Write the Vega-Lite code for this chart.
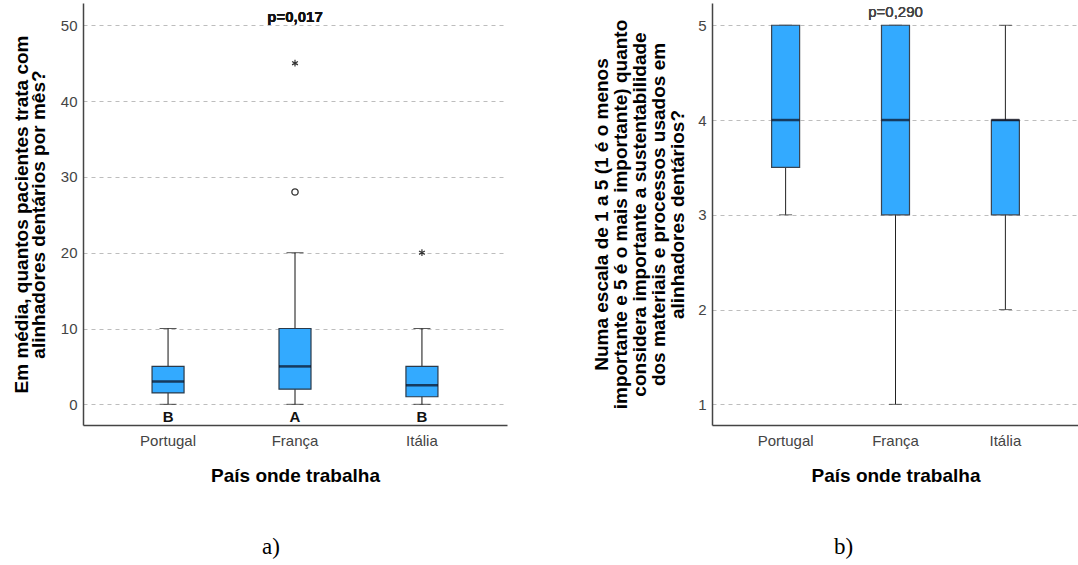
{
  "$schema": "https://vega.github.io/schema/vega-lite/v6.json",
  "padding": {"left": 12, "top": 3, "right": 0, "bottom": 0},
  "background": "white",
  "config": {
    "font": "Liberation Sans",
    "view": {"stroke": null},
    "axis": {
      "labelFont": "Liberation Sans",
      "labelFontSize": 15,
      "labelColor": "#444444",
      "ticks": false,
      "domainColor": "#444444",
      "domainWidth": 1.5,
      "gridColor": "#bdbdbd",
      "gridDash": [4, 4],
      "gridWidth": 1,
      "titleFont": "Liberation Sans",
      "titleFontSize": 19,
      "titleFontWeight": "bold",
      "titleColor": "#000000"
    },
    "title": {"font": "Liberation Serif", "fontSize": 23, "fontWeight": "normal", "color": "#000000"}
  },
  "datasets": {
    "boxA": [
      {"pais": "Portugal", "min": 0, "q1": 1.5, "med": 3, "q3": 5, "max": 10, "letra": "B"},
      {"pais": "França", "min": 0, "q1": 2, "med": 5, "q3": 10, "max": 20, "letra": "A"},
      {"pais": "Itália", "min": 0, "q1": 1, "med": 2.5, "q3": 5, "max": 10, "letra": "B"}
    ],
    "outA": [
      {"pais": "França", "valor": 28, "tipo": "circulo"},
      {"pais": "França", "valor": 45, "tipo": "estrela"},
      {"pais": "Itália", "valor": 20, "tipo": "estrela"}
    ],
    "boxB": [
      {"pais": "Portugal", "min": 3, "q1": 3.5, "med": 4, "q3": 5, "max": 5},
      {"pais": "França", "min": 1, "q1": 3, "med": 4, "q3": 5, "max": 5},
      {"pais": "Itália", "min": 2, "q1": 3, "med": 4, "q3": 4, "max": 5}
    ]
  },
  "spacing": 85,
  "hconcat": [
    {
      "width": 424,
      "height": 422,
      "title": {"text": "a)", "orient": "bottom", "offset": 51, "dx": -24},
      "data": {"name": "boxA"},
      "encoding": {
        "x": {
          "field": "pais", "type": "nominal", "sort": ["Portugal", "França", "Itália"],
          "scale": {"type": "band", "paddingInner": 0, "paddingOuter": 0.17},
          "axis": {"title": "País onde trabalha", "labelAngle": 0, "labelPadding": 8, "titlePadding": 18, "grid": false}
        }
      },
      "layer": [
        {
          "mark": {"type": "rule", "color": "#111111", "strokeWidth": 1},
          "encoding": {
            "y": {
              "field": "min", "type": "quantitative",
              "scale": {"domain": [-2.73, 52.94], "nice": false, "zero": false},
              "axis": {
                "title": ["Em média, quantos pacientes trata com", "alinhadores dentários por mês?"],
                "titleLineHeight": 17,
                "values": [0, 10, 20, 30, 40, 50],
                "format": "d",
                "labelPadding": 6,
                "titlePadding": 12,
                "grid": true
              }
            },
            "y2": {"field": "max"}
          }
        },
        {
          "mark": {"type": "tick", "color": "#111111", "thickness": 1, "size": 17},
          "encoding": {"y": {"field": "min", "type": "quantitative"}}
        },
        {
          "mark": {"type": "tick", "color": "#111111", "thickness": 1, "size": 17},
          "encoding": {"y": {"field": "max", "type": "quantitative"}}
        },
        {
          "mark": {"type": "bar", "size": 32, "fill": "#33aaff", "stroke": "#2b3a4a", "strokeWidth": 1.2},
          "encoding": {"y": {"field": "q1", "type": "quantitative"}, "y2": {"field": "q3"}}
        },
        {
          "mark": {"type": "tick", "color": "#0a0a1a", "thickness": 2.5, "size": 32},
          "encoding": {"y": {"field": "med", "type": "quantitative"}}
        },
        {
          "mark": {"type": "text", "font": "Liberation Sans", "fontSize": 15, "fontWeight": "bold", "color": "#111111", "baseline": "middle"},
          "encoding": {"y": {"datum": -1.7}, "text": {"field": "letra"}}
        },
        {
          "data": {"name": "outA"},
          "transform": [{"filter": "datum.tipo === 'circulo'"}],
          "mark": {"type": "point", "shape": "circle", "filled": false, "size": 40, "stroke": "#333333", "strokeWidth": 1.3, "opacity": 1},
          "encoding": {"y": {"field": "valor", "type": "quantitative"}}
        },
        {
          "data": {"name": "outA"},
          "transform": [{"filter": "datum.tipo === 'estrela'"}],
          "mark": {"type": "point", "shape": "M0,-1L0,1M-0.87,-0.5L0.87,0.5M-0.87,0.5L0.87,-0.5", "filled": false, "size": 45, "stroke": "#333333", "strokeWidth": 1.2, "opacity": 1},
          "encoding": {"y": {"field": "valor", "type": "quantitative"}}
        },
        {
          "mark": {"type": "text", "text": "p=0,017", "font": "Liberation Sans", "fontSize": 15, "fontWeight": "bold", "color": "#111111", "baseline": "middle"},
          "encoding": {"x": {"datum": "França"}, "y": {"datum": 51.05}}
        }
      ]
    },
    {
      "width": 367,
      "height": 422,
      "title": {"text": "b)", "orient": "bottom", "offset": 51, "dx": -52},
      "data": {"name": "boxB"},
      "encoding": {
        "x": {
          "field": "pais", "type": "nominal", "sort": ["Portugal", "França", "Itália"],
          "scale": {"type": "band", "paddingInner": 0, "paddingOuter": 0.17},
          "axis": {"title": "País onde trabalha", "labelAngle": 0, "labelPadding": 8, "titlePadding": 18, "grid": false}
        }
      },
      "layer": [
        {
          "mark": {"type": "rule", "color": "#222222", "strokeWidth": 1},
          "encoding": {
            "y": {
              "field": "min", "type": "quantitative",
              "scale": {"domain": [0.782, 5.235], "nice": false, "zero": false},
              "axis": {
                "title": ["Numa escala de 1 a 5 (1 é o menos", "importante e 5 é o mais importante) quanto", "considera importante a sustentabilidade", "dos materiais e processos usados em", "alinhadores dentários?"],
                "titleLineHeight": 19,
                "values": [1, 2, 3, 4, 5],
                "format": "d",
                "labelPadding": 6,
                "titlePadding": 10,
                "grid": true
              }
            },
            "y2": {"field": "max"}
          }
        },
        {
          "mark": {"type": "tick", "color": "#222222", "thickness": 1, "size": 13},
          "encoding": {"y": {"field": "min", "type": "quantitative"}}
        },
        {
          "mark": {"type": "tick", "color": "#222222", "thickness": 1, "size": 13},
          "encoding": {"y": {"field": "max", "type": "quantitative"}}
        },
        {
          "mark": {"type": "bar", "size": 28, "fill": "#33aaff", "stroke": "#3a4450", "strokeWidth": 1.2},
          "encoding": {"y": {"field": "q1", "type": "quantitative"}, "y2": {"field": "q3"}}
        },
        {
          "mark": {"type": "tick", "color": "#0a0a1a", "thickness": 2.5, "size": 28},
          "encoding": {"y": {"field": "med", "type": "quantitative"}}
        },
        {
          "mark": {"type": "text", "text": "p=0,290", "font": "Liberation Sans", "fontSize": 15, "fontWeight": "normal", "color": "#444444", "baseline": "middle"},
          "encoding": {"x": {"datum": "França"}, "y": {"datum": 5.14}}
        }
      ]
    }
  ]
}
